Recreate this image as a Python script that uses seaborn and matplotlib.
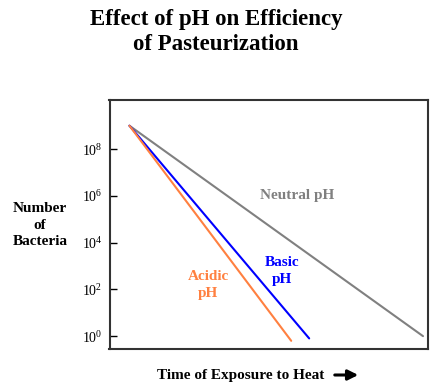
import matplotlib
matplotlib.use("Agg")
import matplotlib.pyplot as plt
import seaborn as sns
import pandas as pd

# start and end points of each survival curve (time units, bacteria count)
conditions = ["Neutral pH", "Basic pH", "Acidic pH"]
time_start = [0, 0, 0]
time_end = [29.4, 18.0, 16.2]
count_start = [1e9, 1e9, 1e9]
count_end = [1.0, 0.8, 0.63]
line_colors = ["#808080", "#0000ff", "#ff8040"]
ytick_powers = [0, 2, 4, 6, 8]

rows = []
for c, t0, t1, n0, n1 in zip(conditions, time_start, time_end, count_start, count_end):
    rows.append({"cond": c, "time": t0, "count": n0})
    rows.append({"cond": c, "time": t1, "count": n1})
df = pd.DataFrame(rows)

sns.set_style("white")
plt.rcParams["font.family"] = ["Liberation Serif", "DejaVu Serif"]
plt.rcParams["text.color"] = "black"
plt.rcParams["ytick.color"] = "black"
plt.rcParams["mathtext.fontset"] = "custom"
plt.rcParams["mathtext.rm"] = "Liberation Serif"
plt.rcParams["mathtext.it"] = "Liberation Serif:italic"
plt.rcParams["mathtext.bf"] = "Liberation Serif:bold"

fig = plt.figure(figsize=(4.47, 3.92), dpi=100)
fig.set_facecolor("white")
ax = fig.add_axes([109.5 / 447, 1 - 349 / 392, (428 - 109.5) / 447, (349 - 100) / 392])

sns.lineplot(data=df, x="time", y="count", hue="cond", palette=dict(zip(conditions, line_colors)),
             linewidth=1.5, legend=False, ax=ax, estimator=None, sort=False)

ax.set_yscale("log")
ax.set_ylim(10 ** -0.55, 10 ** 10.1)
ax.set_xlim(-2, 29.9)
ax.set_yticks([10.0 ** p for p in ytick_powers])
ax.set_yticklabels([r"$10^{%d}$" % p for p in ytick_powers])
ax.minorticks_off()
ax.set_xticks([])
ax.tick_params(axis="y", direction="in", length=5, width=1, labelsize=10, pad=5, left=True,
               colors="black")
ax.set_xlabel("")
ax.set_ylabel("")
for s in ax.spines.values():
    s.set_color("#333333")
    s.set_linewidth(1.5)

# curve labels
ax.text(16.8, 1e6, "Neutral pH", color="#808080", fontsize=11, fontweight="bold",
        ha="center", va="center")
ax.text(15.3, 10 ** 2.79, "Basic\npH", color="#0000ff", fontsize=11, fontweight="bold",
        ha="center", va="center", linespacing=1.35)
ax.text(7.9, 10 ** 2.19, "Acidic\npH", color="#ff8040", fontsize=11, fontweight="bold",
        ha="center", va="center", linespacing=1.35)

fig.text(216 / 447, 1 - 32 / 392, "Effect of pH on Efficiency\nof Pasteurization",
         fontsize=16.5, fontweight="bold", ha="center", va="center", linespacing=1.25)
fig.text(40 / 447, 1 - 225 / 392, "Number\nof\nBacteria", fontsize=11, fontweight="bold",
         ha="center", va="center", linespacing=1.35)
fig.text(241 / 447, 1 - 375 / 392, "Time of Exposure to Heat", fontsize=11, fontweight="bold",
         ha="center", va="center")
fig.add_artist(matplotlib.patches.FancyArrowPatch(
    (332 / 447, 1 - 375 / 392), (361 / 447, 1 - 375 / 392), transform=fig.transFigure,
    arrowstyle="-|>,head_length=6,head_width=3", color="black", linewidth=2.2))

fig.savefig("out.png", dpi=100)
